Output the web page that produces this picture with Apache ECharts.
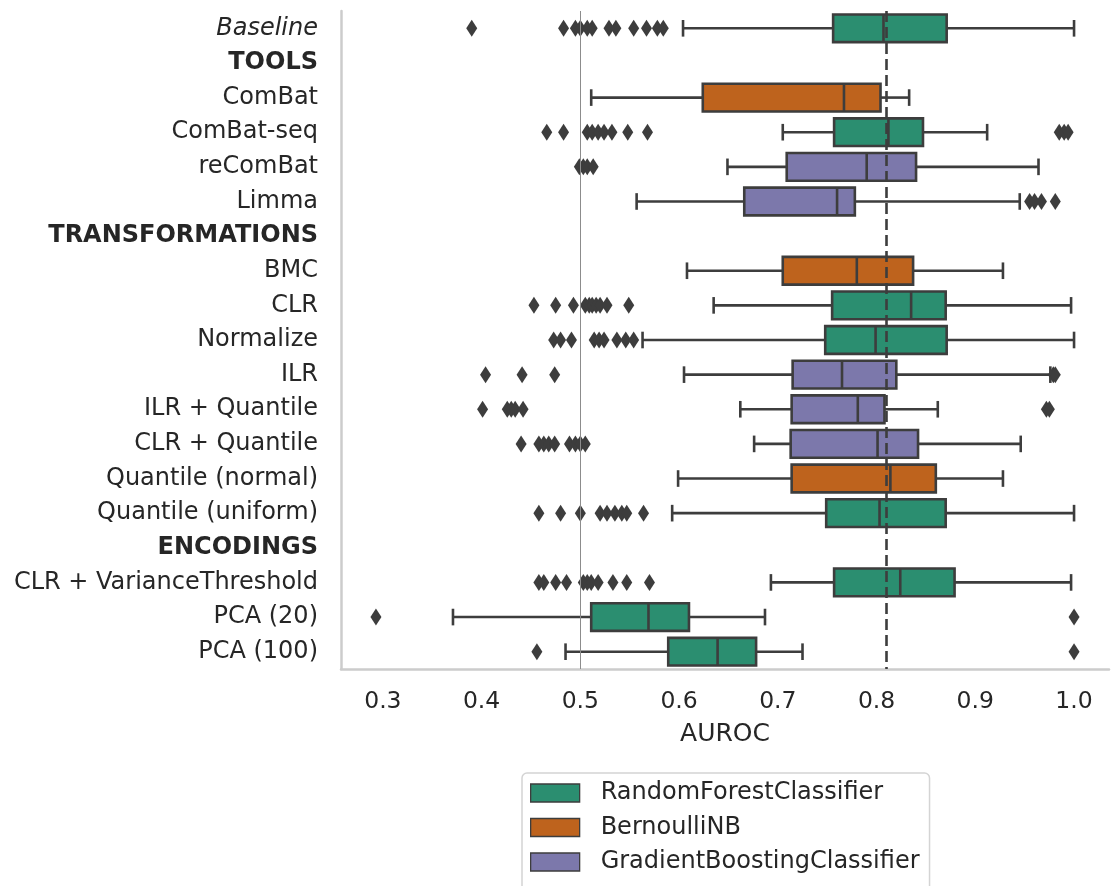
<!DOCTYPE html>
<html>
<head>
<meta charset="utf-8">
<title>AUROC by preprocessing method</title>
<script src="https://cdn.jsdelivr.net/npm/echarts/dist/echarts.min.js"></script>
<style>
  html, body { margin: 0; padding: 0; background: #ffffff; }
  #chart { width: 1113px; height: 886px; }
</style>
</head>
<body>
<div id="chart"></div>
<script>
// Rows from top to bottom; section headers carry no data.
const categories = [
  'Baseline', 'TOOLS', 'ComBat', 'ComBat-seq', 'reComBat', 'Limma',
  'TRANSFORMATIONS', 'BMC', 'CLR', 'Normalize', 'ILR', 'ILR + Quantile',
  'CLR + Quantile', 'Quantile (normal)', 'Quantile (uniform)',
  'ENCODINGS', 'CLR + VarianceThreshold', 'PCA (20)', 'PCA (100)'
];
const headerRows = ['TOOLS', 'TRANSFORMATIONS', 'ENCODINGS'];
const classifiers = ['RandomForestClassifier', 'BernoulliNB', 'GradientBoostingClassifier'];
const classifierColors = ['#2b8e70', '#be631d', '#7c78ab'];

// Best classifier per row (index into classifiers), null for headers.
const rowModel = [0, null, 1, 0, 2, 2, null, 1, 0, 0, 2, 2, 2, 1, 0, null, 0, 0, 0];

// Five-number summaries per row.
const whiskerLow  = [0.604, null, 0.511, 0.705, 0.649, 0.557, null, 0.608, 0.635, 0.563, 0.605, 0.662, 0.676, 0.599, 0.593, null, 0.693, 0.371, 0.485];
const quartile1   = [0.756, null, 0.624, 0.757, 0.709, 0.666, null, 0.705, 0.755, 0.748, 0.715, 0.714, 0.713, 0.714, 0.749, null, 0.757, 0.511, 0.589];
const median      = [0.807, null, 0.767, 0.812, 0.790, 0.760, null, 0.780, 0.835, 0.799, 0.765, 0.781, 0.801, 0.814, 0.803, null, 0.824, 0.569, 0.639];
const quartile3   = [0.871, null, 0.804, 0.847, 0.840, 0.778, null, 0.837, 0.870, 0.871, 0.820, 0.808, 0.842, 0.860, 0.870, null, 0.879, 0.610, 0.678];
const whiskerHigh = [1.000, null, 0.833, 0.912, 0.964, 0.945, null, 0.928, 0.997, 1.000, 0.976, 0.862, 0.946, 0.928, 1.000, null, 0.997, 0.687, 0.725];

// Points beyond the whiskers.
const outliers = [
  [0.390, 0.483, 0.495, 0.500, 0.507, 0.512, 0.529, 0.536, 0.554, 0.567, 0.578, 0.584],
  [],
  [],
  [0.466, 0.483, 0.507, 0.512, 0.518, 0.524, 0.532, 0.548, 0.568, 0.985, 0.990, 0.994],
  [0.499, 0.503, 0.507, 0.513],
  [0.955, 0.960, 0.967, 0.981],
  [],
  [],
  [0.453, 0.475, 0.493, 0.505, 0.509, 0.512, 0.516, 0.520, 0.527, 0.549],
  [0.473, 0.480, 0.491, 0.514, 0.519, 0.524, 0.537, 0.546, 0.554],
  [0.404, 0.441, 0.474, 0.979, 0.981],
  [0.401, 0.426, 0.430, 0.434, 0.442, 0.972, 0.975],
  [0.440, 0.458, 0.463, 0.468, 0.474, 0.489, 0.495, 0.500, 0.505],
  [],
  [0.458, 0.480, 0.500, 0.520, 0.527, 0.535, 0.542, 0.547, 0.564],
  [],
  [0.458, 0.463, 0.475, 0.486, 0.503, 0.507, 0.511, 0.518, 0.533, 0.547, 0.570],
  [0.293, 1.000],
  [0.456, 1.000]
];

const xTicks = [0.3, 0.4, 0.5, 0.6, 0.7, 0.8, 0.9, 1.0];
const chanceLevel = 0.5;

const EDGE = '#3d3d3d';
const TEXT = '#262626';
const FONT = '"DejaVu Sans", sans-serif';
const LW = 2.6;

function boxRenderer(params, api) {
  const row = api.value(0);
  const lo = api.coord([api.value(1), row]);
  const q1 = api.coord([api.value(2), row]);
  const md = api.coord([api.value(3), row]);
  const q3 = api.coord([api.value(4), row]);
  const hi = api.coord([api.value(5), row]);
  const band = api.size([0, 1])[1];
  const half = band * 0.4;
  const cap = band * 0.24;
  const y = lo[1];
  const ls = { stroke: EDGE, lineWidth: LW, fill: null };
  return {
    type: 'group',
    children: [
      { type: 'line', shape: { x1: lo[0], y1: y, x2: q1[0], y2: y }, style: ls },
      { type: 'line', shape: { x1: q3[0], y1: y, x2: hi[0], y2: y }, style: ls },
      { type: 'line', shape: { x1: lo[0], y1: y - cap, x2: lo[0], y2: y + cap }, style: ls },
      { type: 'line', shape: { x1: hi[0], y1: y - cap, x2: hi[0], y2: y + cap }, style: ls },
      { type: 'rect', shape: { x: q1[0], y: y - half, width: q3[0] - q1[0], height: 2 * half },
        style: { fill: api.visual('color'), stroke: EDGE, lineWidth: LW } },
      { type: 'line', shape: { x1: md[0], y1: y - half, x2: md[0], y2: y + half }, style: ls }
    ]
  };
}

const boxSeries = classifiers.map((name, k) => {
  const data = [];
  rowModel.forEach((m, i) => {
    if (m === k) data.push([i, whiskerLow[i], quartile1[i], median[i], quartile3[i], whiskerHigh[i]]);
  });
  return {
    name: name,
    type: 'custom',
    renderItem: boxRenderer,
    itemStyle: { color: classifierColors[k], borderColor: EDGE, borderWidth: 1.3 },
    encode: { x: [1, 2, 3, 4, 5], y: 0 },
    data: data,
    z: 2
  };
});

const outlierData = [];
outliers.forEach((vals, i) => vals.forEach(v => outlierData.push([v, i])));

const chart = echarts.init(document.getElementById('chart'), null, { renderer: 'canvas' });

chart.setOption({
  backgroundColor: '#ffffff',
  animation: false,
  textStyle: { fontFamily: FONT },
  grid: { left: 341, right: 4, top: 11, bottom: 217, containLabel: false },
  xAxis: {
    type: 'value',
    min: 0.2576,
    max: 1.0354,
    name: 'AUROC',
    nameLocation: 'middle',
    nameGap: 53,
    nameTextStyle: { fontSize: 25, color: TEXT, fontFamily: FONT },
    axisLine: { show: true, lineStyle: { color: '#cccccc', width: 2.5 } },
    axisTick: { show: false },
    splitLine: { show: false },
    axisLabel: {
      customValues: xTicks,
      formatter: v => v.toFixed(1),
      fontSize: 23.5,
      color: TEXT,
      fontFamily: FONT,
      margin: 21
    }
  },
  yAxis: {
    type: 'category',
    data: categories,
    inverse: true,
    boundaryGap: true,
    axisLine: { show: true, lineStyle: { color: '#cccccc', width: 2.5 } },
    axisTick: { show: false },
    splitLine: { show: false },
    axisLabel: {
      margin: 23,
      formatter: v => {
        if (v === 'Baseline') return '{it|' + v + '}';
        if (headerRows.includes(v)) return '{b|' + v + '}';
        return '{n|' + v + '}';
      },
      rich: {
        n:  { fontSize: 24, color: TEXT, fontFamily: FONT },
        it: { fontSize: 24, color: TEXT, fontFamily: FONT, fontStyle: 'italic' },
        b:  { fontSize: 24, color: TEXT, fontFamily: FONT, fontWeight: 'bold' }
      }
    }
  },
  legend: {
    orient: 'vertical',
    left: 522,
    top: 773,
    height: 130,
    padding: [8, 10, 20, 8],
    itemWidth: 49,
    itemHeight: 18,
    itemGap: 10.5,
    icon: 'rect',
    backgroundColor: '#ffffff',
    borderColor: '#d4d4d4',
    borderWidth: 1.5,
    borderRadius: 5,
    data: classifiers,
    itemStyle: { borderColor: EDGE, borderWidth: 1.3 },
    textStyle: { fontSize: 24, color: TEXT, fontFamily: FONT, lineHeight: 24, padding: [0, 0, 0, 16] }
  },
  series: [
    ...boxSeries,
    {
      name: 'outliers',
      type: 'scatter',
      symbol: 'diamond',
      symbolSize: [11, 17],
      itemStyle: { color: EDGE, opacity: 1 },
      data: outlierData,
      z: 3,
      markLine: {
        silent: true,
        symbol: 'none',
        label: { show: false },
        data: [
          { xAxis: chanceLevel, lineStyle: { color: '#8c8c8c', width: 1, type: 'solid' } },
          { xAxis: median[0], lineStyle: { color: EDGE, width: LW, type: [11, 5] } }
        ]
      }
    }
  ]
});
</script>
</body>
</html>
